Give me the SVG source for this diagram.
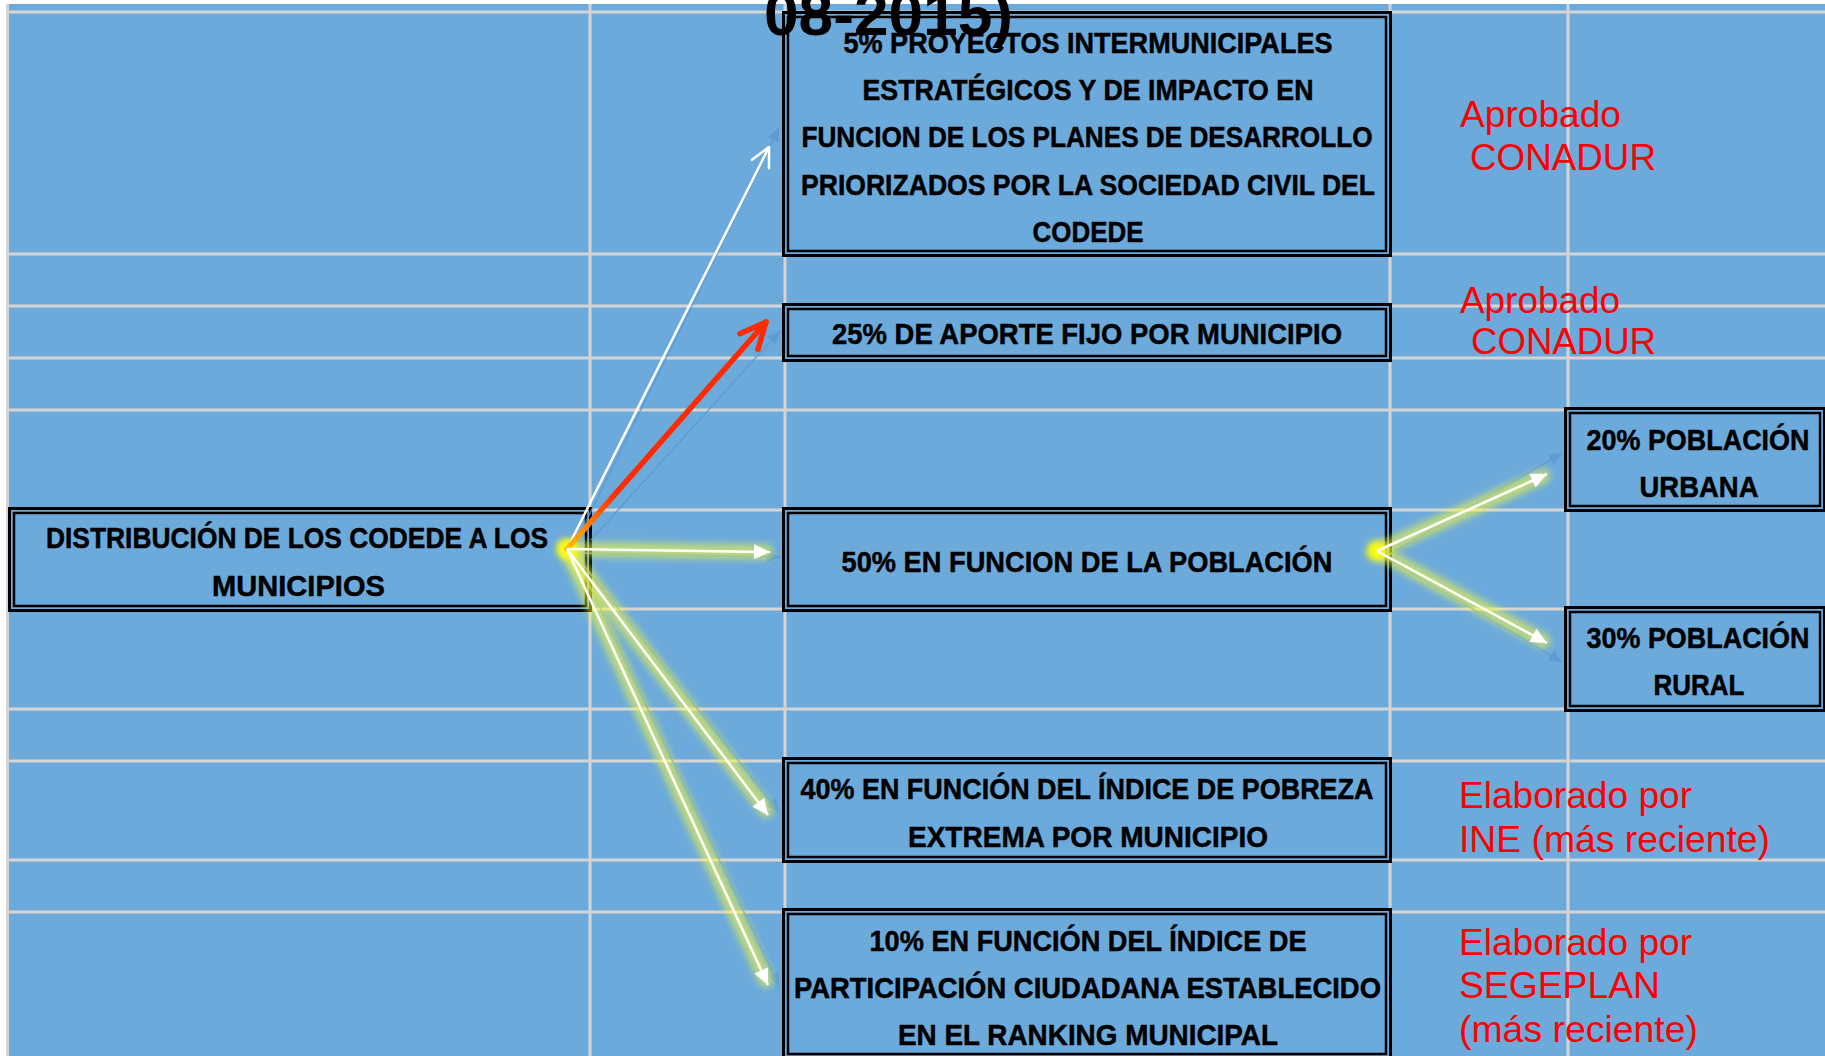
<svg xmlns="http://www.w3.org/2000/svg" width="1825" height="1056" viewBox="0 0 1825 1056">
<defs>
<style>
.grid line{stroke:#D4D4D4;stroke-width:3}
.bo{fill:#6CAADC;stroke:#000;stroke-width:3}
.bi{fill:none;stroke:#000;stroke-width:2.5}
.t{font-family:"Liberation Sans",Arial,sans-serif;font-weight:bold;font-size:30px;fill:#000;stroke:#000;stroke-width:0.5;text-anchor:middle}
.r{font-family:"Liberation Sans",Arial,sans-serif;font-size:37px;fill:#FF0000}
.glow{stroke:#FFFF30;stroke-width:15;stroke-linecap:round;opacity:.55;fill:none;filter:url(#blur)}
.wl{stroke:#FFFFFF;stroke-width:2.5;fill:none;marker-end:url(#tri)}
.fb{stroke:#5A98D2;stroke-width:1.5;fill:none;opacity:.8;marker-end:url(#tb)}
</style>
<filter id="blur" filterUnits="userSpaceOnUse" x="0" y="0" width="1825" height="1056"><feGaussianBlur stdDeviation="3.5"/></filter>
<linearGradient id="redg" gradientUnits="userSpaceOnUse" x1="567" y1="549" x2="615" y2="494"><stop offset="0" stop-color="#FFC000"/><stop offset="1" stop-color="#FF2A00"/></linearGradient>
<marker id="tri" markerUnits="userSpaceOnUse" viewBox="-20 -10 22 20" markerWidth="22" markerHeight="20" refX="0" refY="0" orient="auto"><path d="M-16,-7.5 L0,0 L-16,7.5 z" fill="#FFFFFF"/></marker>
<marker id="tb" markerUnits="userSpaceOnUse" viewBox="-16 -8 18 16" markerWidth="18" markerHeight="16" refX="0" refY="0" orient="auto"><path d="M-13,-6 L0,0 L-13,6 z" fill="#5A98D2"/></marker>
<marker id="vw" markerUnits="userSpaceOnUse" viewBox="-24 -14 28 28" markerWidth="28" markerHeight="28" refX="0" refY="0" orient="auto"><path d="M-19,-9.5 L0,0 L-19,9.5" fill="none" stroke="#FFFFFF" stroke-width="2.5" stroke-linecap="round" stroke-linejoin="round"/></marker>
<marker id="vr" markerUnits="userSpaceOnUse" viewBox="-32 -18 36 36" markerWidth="36" markerHeight="36" refX="0" refY="0" orient="auto"><path d="M-26,-12 L0,0 L-26,12" fill="none" stroke="#FF2A00" stroke-width="5.5" stroke-linecap="round" stroke-linejoin="round"/></marker>
</defs>

<rect x="0" y="0" width="1825" height="1056" fill="#FFFFFF"/>
<rect x="6" y="4" width="1819" height="1052" fill="#6CAADC"/>

<g id="grid" class="grid">
<line x1="6" y1="12" x2="1825" y2="12"/>
<line x1="6" y1="254" x2="1825" y2="254"/>
<line x1="6" y1="306" x2="1825" y2="306"/>
<line x1="6" y1="358" x2="1825" y2="358"/>
<line x1="6" y1="410" x2="1825" y2="410"/>
<line x1="6" y1="510" x2="1825" y2="510"/>
<line x1="6" y1="609" x2="1825" y2="609"/>
<line x1="6" y1="709" x2="1825" y2="709"/>
<line x1="6" y1="761" x2="1825" y2="761"/>
<line x1="6" y1="860" x2="1825" y2="860"/>
<line x1="6" y1="912" x2="1825" y2="912"/>
<line x1="7.5" y1="4" x2="7.5" y2="1056"/>
<line x1="590" y1="4" x2="590" y2="1056"/>
<line x1="785" y1="4" x2="785" y2="1056"/>
<line x1="1390" y1="4" x2="1390" y2="1056"/>
<line x1="1568" y1="4" x2="1568" y2="1056"/>
</g>

<g id="node-dist">
<rect class="bo" x="9.5" y="508.5" width="581" height="102"/>
<rect class="bi" x="14" y="513" width="572" height="93"/>
<text class="t" x="297" y="548" textLength="502" lengthAdjust="spacingAndGlyphs">DISTRIBUCIÓN DE LOS CODEDE A LOS</text>
<text class="t" x="298.5" y="596" textLength="173" lengthAdjust="spacingAndGlyphs">MUNICIPIOS</text>
</g>

<g id="node-5">
<rect class="bo" x="783.5" y="12.5" width="607" height="243"/>
<rect class="bi" x="788" y="17" width="598" height="234"/>
<text class="t" x="1088" y="53" textLength="489" lengthAdjust="spacingAndGlyphs">5% PROYECTOS INTERMUNICIPALES</text>
<text class="t" x="1088" y="100" textLength="451" lengthAdjust="spacingAndGlyphs">ESTRATÉGICOS Y DE IMPACTO EN</text>
<text class="t" x="1087" y="147" textLength="571" lengthAdjust="spacingAndGlyphs">FUNCION DE LOS PLANES DE DESARROLLO</text>
<text class="t" x="1088" y="195" textLength="574" lengthAdjust="spacingAndGlyphs">PRIORIZADOS POR LA SOCIEDAD CIVIL DEL</text>
<text class="t" x="1088" y="242" textLength="111" lengthAdjust="spacingAndGlyphs">CODEDE</text>
</g>

<g id="node-25">
<rect class="bo" x="783.5" y="304.5" width="607" height="56"/>
<rect class="bi" x="788" y="309" width="598" height="47"/>
<text class="t" x="1087" y="344" textLength="510" lengthAdjust="spacingAndGlyphs">25% DE APORTE FIJO POR MUNICIPIO</text>
</g>

<g id="node-50">
<rect class="bo" x="783.5" y="508.5" width="607" height="102"/>
<rect class="bi" x="788" y="513" width="598" height="93"/>
<text class="t" x="1087" y="572" textLength="491" lengthAdjust="spacingAndGlyphs">50% EN FUNCION DE LA POBLACIÓN</text>
</g>

<g id="node-20">
<rect class="bo" x="1565.5" y="408.5" width="259" height="102"/>
<rect class="bi" x="1570" y="413" width="250" height="93"/>
<text class="t" x="1698" y="450" textLength="223" lengthAdjust="spacingAndGlyphs">20% POBLACIÓN</text>
<text class="t" x="1699" y="497" textLength="119" lengthAdjust="spacingAndGlyphs">URBANA</text>
</g>

<g id="node-30">
<rect class="bo" x="1565.5" y="607.5" width="259" height="103"/>
<rect class="bi" x="1570" y="612" width="250" height="94"/>
<text class="t" x="1698" y="648" textLength="223" lengthAdjust="spacingAndGlyphs">30% POBLACIÓN</text>
<text class="t" x="1699" y="695" textLength="91" lengthAdjust="spacingAndGlyphs">RURAL</text>
</g>

<g id="node-40">
<rect class="bo" x="783.5" y="758.5" width="607" height="103"/>
<rect class="bi" x="788" y="763" width="598" height="94"/>
<text class="t" x="1087" y="799" textLength="573" lengthAdjust="spacingAndGlyphs">40% EN FUNCIÓN DEL ÍNDICE DE POBREZA</text>
<text class="t" x="1088" y="847" textLength="360" lengthAdjust="spacingAndGlyphs">EXTREMA POR MUNICIPIO</text>
</g>

<g id="node-10">
<rect class="bo" x="783.5" y="909.5" width="607" height="149"/>
<rect class="bi" x="788" y="914" width="598" height="140"/>
<text class="t" x="1088" y="951" textLength="437" lengthAdjust="spacingAndGlyphs">10% EN FUNCIÓN DEL ÍNDICE DE</text>
<text class="t" x="1087.5" y="998" textLength="587" lengthAdjust="spacingAndGlyphs">PARTICIPACIÓN CIUDADANA ESTABLECIDO</text>
<text class="t" x="1088" y="1045" textLength="380" lengthAdjust="spacingAndGlyphs">EN EL RANKING MUNICIPAL</text>
</g>

<g id="connectors">
<path class="fb" d="M573,548 L779,128"/>
<path class="fb" d="M591,540 L780,331"/>
<path class="fb" d="M575,553 L780,557"/>
<path class="fb" d="M574,553 L779,812"/>
<path class="fb" d="M574,553 L779,986"/>
<path class="fb" d="M1385,557 L1562,453"/>
<path class="fb" d="M1385,557 L1562,662"/>
<g id="glows">
<path class="glow" d="M567,549 L766,552"/>
<path class="glow" d="M567,549 L766,810"/>
<path class="glow" d="M567,549 L766,980"/>
<path class="glow" d="M1377,551 L1543,476"/>
<path class="glow" d="M1377,551 L1543,641"/>
<circle cx="567" cy="549" r="10" fill="#FFFF00" opacity="0.9" filter="url(#blur)"/>
<circle cx="1377" cy="551" r="10" fill="#FFFF00" opacity="0.9" filter="url(#blur)"/>
</g>
<path d="M567,549 L769,147" fill="none" stroke="#FFFFFF" stroke-width="2.5" marker-end="url(#vw)"/>
<path d="M567,549 L766,322" fill="none" stroke="url(#redg)" stroke-width="5.5" stroke-linecap="round" marker-end="url(#vr)"/>
<path class="wl" d="M567,549 L770,552"/>
<path class="wl" d="M567,549 L768,815"/>
<path class="wl" d="M567,549 L768,985"/>
<path class="wl" d="M1377,551 L1547,474"/>
<path class="wl" d="M1377,551 L1547,643"/>
</g>

<g id="notes">
<text class="r" x="1460" y="127" textLength="161" lengthAdjust="spacingAndGlyphs">Aprobado</text>
<text class="r" x="1470" y="170" textLength="186" lengthAdjust="spacingAndGlyphs">CONADUR</text>
<text class="r" x="1460" y="313" textLength="160" lengthAdjust="spacingAndGlyphs">Aprobado</text>
<text class="r" x="1471" y="354" textLength="185" lengthAdjust="spacingAndGlyphs">CONADUR</text>
<text class="r" x="1459" y="808" textLength="233" lengthAdjust="spacingAndGlyphs">Elaborado por</text>
<text class="r" x="1459" y="852" textLength="311" lengthAdjust="spacingAndGlyphs">INE (más reciente)</text>
<text class="r" x="1459" y="955" textLength="233" lengthAdjust="spacingAndGlyphs">Elaborado por</text>
<text class="r" x="1459" y="998" textLength="201" lengthAdjust="spacingAndGlyphs">SEGEPLAN</text>
<text class="r" x="1459" y="1042" textLength="239" lengthAdjust="spacingAndGlyphs">(más reciente)</text>
</g>

<text x="764" y="35" font-family="'Liberation Sans',Arial,sans-serif" font-weight="bold" font-size="61" fill="#000" textLength="249" lengthAdjust="spacingAndGlyphs">08-2015)</text>
</svg>
